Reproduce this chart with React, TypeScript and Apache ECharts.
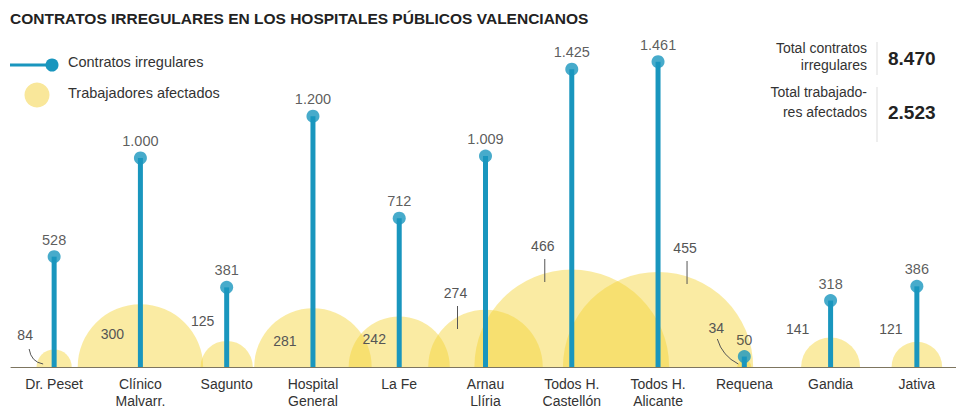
import React, { useEffect, useRef } from "react";
import * as echarts from "echarts";

const categories = [
  "Dr. Peset",
  "Clínico\nMalvarr.",
  "Sagunto",
  "Hospital\nGeneral",
  "La Fe",
  "Arnau\nLlíria",
  "Todos H.\nCastellón",
  "Todos H.\nAlicante",
  "Requena",
  "Gandia",
  "Jativa",
];
const contratos = [528, 1000, 381, 1200, 712, 1009, 1425, 1461, 50, 318, 386];
const trabajadores = [84, 300, 125, 281, 242, 274, 466, 455, 34, 141, 121];
const totalContratos = "8.470";
const totalTrabajadores = "2.523";

// label placement for the worker counts (pixels relative to circle centre)
const workerLabelPos: [number, number, string][] = [
  [-29, -32, "curve1"],
  [-28, -33, ""],
  [-24, -46, ""],
  [-28, -26, ""],
  [-25, -28, ""],
  [-30, -74, "v"],
  [-29, -121, "v"],
  [27, -119, "v"],
  [-28, -39, "curve2"],
  [-33, -38, ""],
  [-26, -38, ""],
];

const FONT = "'Liberation Sans', Arial, sans-serif";
const fmt = (v: number) => String(v).replace(/\B(?=(\d{3})+(?!\d))/g, ".");

export default function App() {
  const ref = useRef<HTMLDivElement>(null);
  useEffect(() => {
    if (!ref.current) return;
    const chart = echarts.init(ref.current, undefined, { renderer: "svg" });
    const blue = "#1996BE";
    chart.setOption({
      animation: false,
      backgroundColor: "#ffffff",
      textStyle: { fontFamily: FONT },
      grid: { left: 11, width: 949, top: 53.5, bottom: 39 },
      xAxis: {
        type: "category",
        data: categories,
        boundaryGap: true,
        axisTick: { show: false },
        axisLine: { lineStyle: { color: "#7d7560", width: 1 } },
        axisLabel: {
          color: "#333",
          fontSize: 14,
          lineHeight: 17,
          margin: 8,
          fontFamily: FONT,
          interval: 0,
        },
        z: 10,
      },
      yAxis: { type: "value", min: 0, max: 1500, show: false, splitLine: { show: false } },
      series: [
        {
          type: "custom",
          name: "Trabajadores afectados",
          z: 1,
          data: trabajadores.map((v, i) => [i, v]),
          renderItem: (params: any, api: any) => {
            const i = params.dataIndex;
            const base = api.coord([api.value(0), 0]);
            const top = api.coord([api.value(0), api.value(1)]);
            const r = base[1] - top[1];
            const [dx, dy, leader] = workerLabelPos[i];
            const lx = base[0] + dx;
            const ly = base[1] + dy;
            const children: any[] = [
              {
                type: "sector",
                shape: { cx: base[0], cy: base[1], r0: 0, r, startAngle: Math.PI, endAngle: Math.PI * 2, clockwise: true },
                style: { fill: "rgba(243, 211, 50, 0.45)" },
                z2: 1,
              },
              {
                type: "text",
                x: lx,
                y: ly,
                style: {
                  text: String(api.value(1)),
                  fill: "#555",
                  fontSize: 14,
                  fontFamily: FONT,
                  align: "center",
                  verticalAlign: "middle",
                },
                z2: 5,
              },
            ];
            if (leader === "v") {
              children.push({
                type: "line",
                shape: { x1: lx + 2, y1: ly + 13, x2: lx + 2, y2: ly + 36 },
                style: { stroke: "#555", lineWidth: 1 },
                z2: 5,
              });
            } else if (leader === "curve1") {
              children.push({
                type: "bezierCurve",
                shape: { x1: lx + 4, y1: ly + 14, cpx1: lx + 6, cpy1: ly + 27, x2: lx + 18, y2: ly + 29 },
                style: { stroke: "#555", lineWidth: 1, fill: "none" },
                z2: 5,
              });
            } else if (leader === "curve2") {
              children.push({
                type: "bezierCurve",
                shape: { x1: lx + 1, y1: ly + 11, cpx1: lx + 6, cpy1: ly + 28, x2: lx + 22, y2: ly + 36 },
                style: { stroke: "#555", lineWidth: 1, fill: "none" },
                z2: 5,
              });
            }
            return { type: "group", children };
          },
        },
        {
          type: "bar",
          name: "Contratos irregulares",
          data: contratos,
          barWidth: 5,
          z: 3,
          itemStyle: { color: blue },
        },
        {
          type: "scatter",
          name: "Contratos irregulares",
          data: contratos,
          symbol: "circle",
          symbolSize: 13,
          z: 4,
          itemStyle: { color: blue },
          label: {
            show: true,
            position: "top",
            distance: 3,
            color: "#333",
            fontSize: 14.5,
            fontFamily: FONT,
            formatter: (p: any) => fmt(p.value),
          },
        },
      ],
      graphic: [
        {
          type: "text",
          x: 10,
          y: 18,
          style: {
            text: "CONTRATOS IRREGULARES EN LOS HOSPITALES PÚBLICOS VALENCIANOS",
            fill: "#222",
            font: `bold 15.5px ${FONT}`,
            verticalAlign: "middle",
          },
        },
        { type: "line", shape: { x1: 10, y1: 65, x2: 50, y2: 65 }, style: { stroke: blue, lineWidth: 3 } },
        { type: "circle", shape: { cx: 52, cy: 65, r: 6.5 }, style: { fill: blue } },
        {
          type: "text",
          x: 68,
          y: 62,
          style: { text: "Contratos irregulares", fill: "#333", font: `14.5px ${FONT}`, verticalAlign: "middle" },
        },
        { type: "circle", shape: { cx: 37, cy: 95, r: 12.5 }, style: { fill: "#F9E79A" } },
        {
          type: "text",
          x: 68,
          y: 93,
          style: { text: "Trabajadores afectados", fill: "#333", font: `14.5px ${FONT}`, verticalAlign: "middle" },
        },
        {
          type: "text",
          x: 867,
          y: 56,
          style: {
            text: "Total contratos\nirregulares",
            fill: "#333",
            font: `14px ${FONT}`,
            lineHeight: 17,
            align: "right",
            verticalAlign: "middle",
          },
        },
        { type: "line", shape: { x1: 877, y1: 42, x2: 877, y2: 75 }, style: { stroke: "#ddd", lineWidth: 1 } },
        {
          type: "text",
          x: 888,
          y: 58,
          style: { text: totalContratos, fill: "#222", font: `bold 19px ${FONT}`, verticalAlign: "middle" },
        },
        {
          type: "text",
          x: 867,
          y: 102,
          style: {
            text: "Total trabajado-\nres afectados",
            fill: "#333",
            font: `14px ${FONT}`,
            lineHeight: 20,
            align: "right",
            verticalAlign: "middle",
          },
        },
        { type: "line", shape: { x1: 877, y1: 87, x2: 877, y2: 142 }, style: { stroke: "#ddd", lineWidth: 1 } },
        {
          type: "text",
          x: 888,
          y: 112,
          style: { text: totalTrabajadores, fill: "#222", font: `bold 19px ${FONT}`, verticalAlign: "middle" },
        },
      ],
    });
    return () => chart.dispose();
  }, []);
  return (
    <div style={{ position: "absolute", left: 0, top: 0, width: 956, height: 409, overflow: "hidden", background: "#fff" }}>
      <div ref={ref} style={{ width: 966, height: 409 }} />
    </div>
  );
}
